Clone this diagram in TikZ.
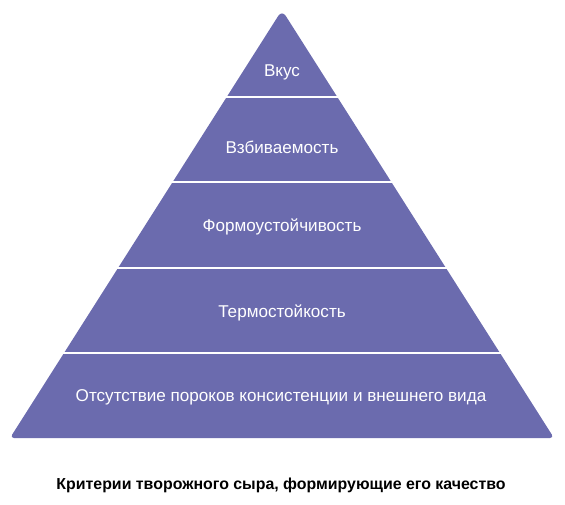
\documentclass[tikz,border=0pt]{standalone}
\usepackage{fontspec}
\setmainfont{Liberation Sans}
\definecolor{pyr}{HTML}{6B6BAE}
\begin{document}
\begin{tikzpicture}[x=1pt,y=-1pt,
  lbl/.style={text=white,font=\fontsize{17.1}{19}\selectfont,inner sep=0pt},
  sep/.style={draw=white,line width=2.2pt}]
\useasboundingbox (0,0) rectangle (565,505);
\fill[pyr,rounded corners=4pt] (10,438) [rounded corners=7pt] -- (282,10) [rounded corners=4pt] -- (554,438) -- cycle;
\foreach \yy in {97,182,268,353}
  \draw[sep] (0,\yy) -- (565,\yy);
\node[lbl] (l1) at (282,72) {Вкус};
\node[lbl] (l2) at (282,147) {Взбиваемость};
\node[lbl] (l3) at (282,227) {Формоустойчивость};
\node[lbl] (l4) at (282,313) {Термостойкость};
\node[lbl] (l5) at (281,397) {Отсутствие пороков консистенции и внешнего вида};
\node[inner sep=0pt,font=\bfseries\fontsize{15.9}{18}\selectfont] (cap) at (281,485) {Критерии творожного сыра, формирующие его качество};
\end{tikzpicture}
\end{document}
